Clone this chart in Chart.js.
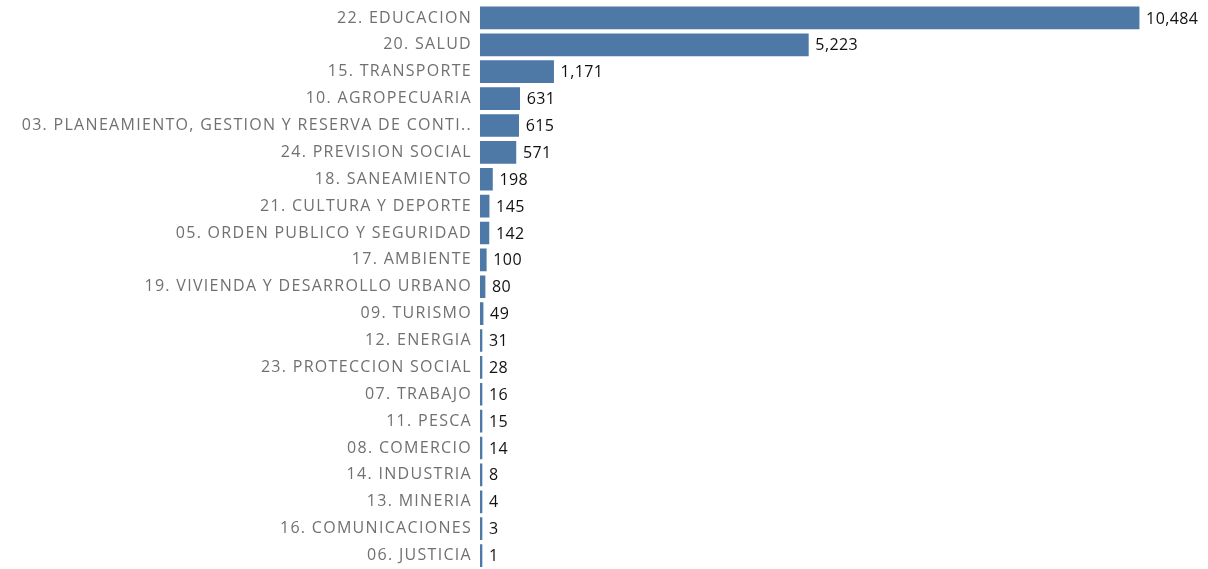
<!DOCTYPE html>
<html lang="es">

<head>
  <meta charset="UTF-8">
  <title>Gasto por funcion</title>
  <script src="https://cdn.jsdelivr.net/npm/chart.js"></script>
  <style>
    html, body { margin: 0; padding: 0; background: #fff; }
    #wrap { position: relative; width: 1208px; height: 569px; }
  </style>
</head>

<body>
  <div id="wrap">
    <canvas id="barChart"></canvas>
  </div>

  <script>
    // categories and values
    const categories = [
      '22. EDUCACION',
      '20. SALUD',
      '15. TRANSPORTE',
      '10. AGROPECUARIA',
      '03. PLANEAMIENTO, GESTION Y RESERVA DE CONTI..',
      '24. PREVISION SOCIAL',
      '18. SANEAMIENTO',
      '21. CULTURA Y DEPORTE',
      '05. ORDEN PUBLICO Y SEGURIDAD',
      '17. AMBIENTE',
      '19. VIVIENDA Y DESARROLLO URBANO',
      '09. TURISMO',
      '12. ENERGIA',
      '23. PROTECCION SOCIAL',
      '07. TRABAJO',
      '11. PESCA',
      '08. COMERCIO',
      '14. INDUSTRIA',
      '13. MINERIA',
      '16. COMUNICACIONES',
      '06. JUSTICIA'
    ];
    const values = [10484, 5223, 1171, 631, 615, 571, 198, 145, 142, 100, 80, 49, 31, 28, 16, 15, 14, 8, 4, 3, 1];

    const fontFamily = '"Open Sans", sans-serif';

    // the original font is wider than Open Sans, so space the category labels out a little
    const spacing = {
      id: 'spacing',
      beforeDraw(chart) {
        chart.ctx.letterSpacing = '1.3px';
      }
    };

    // draws the value to the right of every bar
    const valueLabels = {
      id: 'valueLabels',
      afterDatasetsDraw(chart) {
        const ctx = chart.ctx;
        const meta = chart.getDatasetMeta(0);
        ctx.save();
        ctx.letterSpacing = '0.4px';
        ctx.font = '16px ' + fontFamily;
        ctx.fillStyle = '#111';
        ctx.textAlign = 'left';
        ctx.textBaseline = 'middle';
        meta.data.forEach((bar, i) => {
          ctx.fillText(values[i].toLocaleString('en-US'), bar.x + 7, bar.y + 1);
        });
        ctx.restore();
      }
    };

    const ctx = document.getElementById('barChart').getContext('2d');
    new Chart(ctx, {
      type: 'bar',
      data: {
        labels: categories,
        datasets: [{
          data: values,
          backgroundColor: '#4e79a7',
          borderWidth: 0,
          barThickness: 22,
          minBarLength: 2
        }]
      },
      options: {
        indexAxis: 'y',
        responsive: true,
        maintainAspectRatio: false,
        animation: false,
        layout: { padding: { top: 4.5, right: 0, bottom: -2.5, left: 0 } },
        plugins: {
          legend: { display: false },
          tooltip: { enabled: false }
        },
        scales: {
          x: {
            display: false,
            min: 0,
            max: 11580
          },
          y: {
            grid: { display: false, drawTicks: false },
            border: { display: false },
            ticks: {
              color: '#707070',
              padding: 8,
              autoSkip: false,
              font: { family: fontFamily, size: 16 }
            },
            afterFit(scale) {
              scale.width = 480;
              scale.paddingTop = 0;
              scale.paddingBottom = 0;
            }
          }
        }
      },
      plugins: [spacing, valueLabels]
    });
  </script>
</body>

</html>
